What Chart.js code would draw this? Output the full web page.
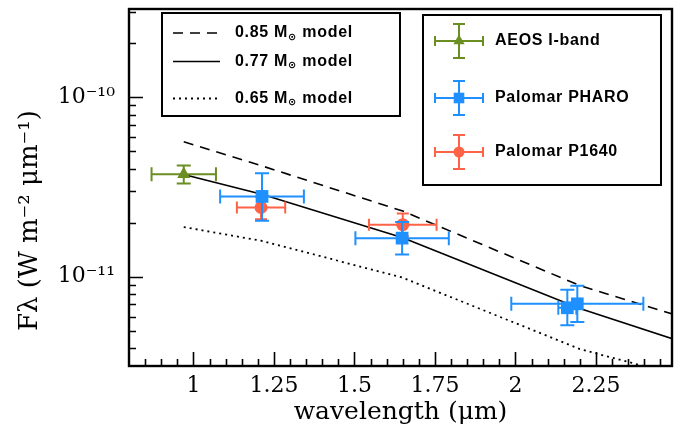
<!DOCTYPE html>
<html><head><meta charset="utf-8">
<script src="https://cdn.jsdelivr.net/npm/chart.js@4"></script>
<style>html,body{margin:0;padding:0;background:#fff;} canvas{display:block;}</style>
</head><body>
<canvas id="c" width="683" height="436"></canvas>
<script>
// ---- model curves (wavelength in micron, flux in W m^-2 um^-1) ----
const modelWavelength = [0.97, 1.215, 1.65, 2.2, 2.5];
const model085 = [5.64e-11, 4.13e-11, 2.32e-11, 8.92e-12, 6.09e-12];
const model077 = [3.71e-11, 2.87e-11, 1.65e-11, 6.65e-12, 4.43e-12];
const model065 = [1.89e-11, 1.58e-11, 9.87e-12, 3.95e-12, 2.84e-12];

// ---- AEOS I-band ----
const aeosWavelength = [0.97];
const aeosWavelengthErr = [0.10];
const aeosFlux = [3.72e-11];
const aeosFluxLow = [3.30e-11];
const aeosFluxHigh = [4.16e-11];

// ---- Palomar PHARO ----
const pharoWavelength = [1.213, 1.648, 2.161, 2.192];
const pharoWavelengthErr = [0.13, 0.145, 0.028, 0.205];
const pharoFlux = [2.80e-11, 1.64e-11, 6.71e-12, 7.06e-12];
const pharoFluxLow = [2.05e-11, 1.33e-11, 5.36e-12, 5.60e-12];
const pharoFluxHigh = [3.77e-11, 2.02e-11, 8.47e-12, 8.90e-12];

// ---- Palomar P1640 ----
const p1640Wavelength = [1.21, 1.65];
const p1640WavelengthErr = [0.075, 0.105];
const p1640Flux = [2.43e-11, 1.95e-11];
const p1640FluxLow = [2.09e-11, 1.68e-11];
const p1640FluxHigh = [2.79e-11, 2.25e-11];

// ---- ticks ----
const xTickValues = [1, 1.25, 1.5, 1.75, 2, 2.25];
const xTickLabels = ['1', '1.25', '1.5', '1.75', '2', '2.25'];
const yTickValues = [1e-11, 1e-10];
const yTickLabels = ['10\u207B\u00B9\u00B9', '10\u207B\u00B9\u2070'];

const GREEN = '#6B8E23', BLUE = '#1E90FF', RED = '#FF6347';

function pts(xs, ys) { return xs.map((x, i) => ({ x: x, y: ys[i] })); }

const errorBars = {
  id: 'errorBars',
  beforeDatasetDraw(chart, args) {
    const ds = chart.data.datasets[args.index];
    if (!ds.errX) return;
    const ctx = chart.ctx, a = chart.chartArea, xs = chart.scales.x, ys = chart.scales.y;
    ctx.save();
    ctx.beginPath(); ctx.rect(a.left, a.top, a.right - a.left, a.bottom - a.top); ctx.clip();
    ctx.strokeStyle = ds.borderColor; ctx.lineWidth = 2;
    const c = ds.capSize;
    ds.data.forEach((p, i) => {
      const px = xs.getPixelForValue(p.x), py = ys.getPixelForValue(p.y);
      const x0 = xs.getPixelForValue(p.x - ds.errX[i]), x1 = xs.getPixelForValue(p.x + ds.errX[i]);
      const y0 = ys.getPixelForValue(ds.errLow[i]), y1 = ys.getPixelForValue(ds.errHigh[i]);
      ctx.beginPath();
      ctx.moveTo(x0, py); ctx.lineTo(x1, py);
      ctx.moveTo(x0, py - c); ctx.lineTo(x0, py + c);
      ctx.moveTo(x1, py - c); ctx.lineTo(x1, py + c);
      ctx.moveTo(px, y0); ctx.lineTo(px, y1);
      ctx.moveTo(px - c, y0); ctx.lineTo(px + c, y0);
      ctx.moveTo(px - c, y1); ctx.lineTo(px + c, y1);
      ctx.stroke();
    });
    ctx.restore();
  }
};

const frameTicks = {
  id: 'frameTicks',
  afterDatasetsDraw(chart) {
    const ctx = chart.ctx, a = chart.chartArea, xs = chart.scales.x, ys = chart.scales.y;
    ctx.save();
    ctx.strokeStyle = '#000';
    ctx.lineWidth = 1.6;
    ctx.beginPath();
    for (let k = 17; k <= 49; k++) {
      const v = k / 20;
      const px = Math.round(xs.getPixelForValue(v)) + 0.5;
      if (px <= a.left + 1 || px >= a.right - 1) continue;
      const major = xTickValues.some(t => Math.abs(t - v) < 1e-9);
      const len = major ? 14 : 7;
      ctx.moveTo(px, a.bottom); ctx.lineTo(px, a.bottom - len);
    }
    for (let d = -12; d <= -10; d++) {
      for (let m = 1; m <= 9; m++) {
        const v = m * Math.pow(10, d);
        if (v < ys.min || v > ys.max) continue;
        const py = Math.round(ys.getPixelForValue(v)) + 0.5;
        const len = m === 1 ? 14 : 7;
        ctx.moveTo(a.left, py); ctx.lineTo(a.left + len, py);
      }
    }
    ctx.stroke();
    ctx.lineWidth = 2.4;
    ctx.strokeRect(a.left, a.top, a.right - a.left, a.bottom - a.top);
    ctx.restore();
  }
};

function drawLabel(ctx, text, x, y) {
  ctx.font = 'bold 16px "Liberation Sans", Arial, sans-serif';
  ctx.textBaseline = 'middle';
  ctx.textAlign = 'left';
  ctx.fillStyle = '#000';
  const parts = text.split('\u2299');
  ctx.fillText(parts[0], x, y);
  let cx = x + ctx.measureText(parts[0]).width;
  if (parts.length > 1) {
    ctx.font = 'bold 10px "DejaVu Sans", sans-serif';
    ctx.fillText('\u2299', cx, y + 4);
    cx += ctx.measureText('\u2299').width;
    ctx.font = 'bold 16px "Liberation Sans", Arial, sans-serif';
    ctx.fillText(parts[1], cx, y);
  }
}

const boxLegends = {
  id: 'boxLegends',
  afterDraw(chart) {
    const ctx = chart.ctx;
    const dsets = chart.data.datasets;
    const byLabel = l => dsets.find(d => d.label === l);
    ctx.save();
    try { ctx.letterSpacing = '0.7px'; } catch (e) {}
    ctx.fillStyle = '#fff';
    ctx.fillRect(162, 13, 238, 103);
    ctx.strokeStyle = '#000'; ctx.lineWidth = 2;
    ctx.strokeRect(162, 13, 238, 103);
    const mRows = [33, 61.5, 98.5];
    ['0.85 M\u2299 model', '0.77 M\u2299 model', '0.65 M\u2299 model'].forEach((lab, i) => {
      const d = byLabel(lab);
      ctx.save();
      ctx.strokeStyle = d.borderColor; ctx.lineWidth = d.borderWidth;
      ctx.setLineDash(d.borderDash || []);
      ctx.beginPath(); ctx.moveTo(173, mRows[i]); ctx.lineTo(220, mRows[i]); ctx.stroke();
      ctx.restore();
      drawLabel(ctx, lab, 235, mRows[i]);
    });
    ctx.fillStyle = '#fff';
    ctx.fillRect(423, 15, 238, 170);
    ctx.strokeStyle = '#000'; ctx.lineWidth = 2;
    ctx.strokeRect(423, 15, 238, 170);
    const dRows = [41, 98, 152];
    ['AEOS I-band', 'Palomar PHARO', 'Palomar P1640'].forEach((lab, i) => {
      const d = byLabel(lab);
      const cx = 459, cy = dRows[i];
      ctx.save();
      ctx.strokeStyle = d.borderColor; ctx.lineWidth = 2;
      ctx.beginPath();
      ctx.moveTo(435, cy); ctx.lineTo(483, cy);
      ctx.moveTo(435, cy - 5); ctx.lineTo(435, cy + 5);
      ctx.moveTo(483, cy - 5); ctx.lineTo(483, cy + 5);
      ctx.moveTo(cx, cy - 17); ctx.lineTo(cx, cy + 17);
      ctx.moveTo(cx - 6, cy - 17); ctx.lineTo(cx + 6, cy - 17);
      ctx.moveTo(cx - 6, cy + 17); ctx.lineTo(cx + 6, cy + 17);
      ctx.stroke();
      ctx.fillStyle = d.backgroundColor;
      Chart.helpers.drawPoint(ctx, { pointStyle: d.pointStyle, rotation: 0, radius: d.legendRadius, borderWidth: 0 }, cx, cy);
      ctx.restore();
      drawLabel(ctx, lab, 495, cy);
    });
    ctx.restore();
  }
};

new Chart(document.getElementById('c'), {
  type: 'scatter',
  data: {
    datasets: [
      { label: 'Palomar PHARO', data: pts(pharoWavelength, pharoFlux),
        errX: pharoWavelengthErr, errLow: pharoFluxLow, errHigh: pharoFluxHigh, capSize: 7,
        pointStyle: 'rect', pointRadius: 9, legendRadius: 7.5,
        backgroundColor: BLUE, borderColor: BLUE, borderWidth: 0 },
      { label: 'Palomar P1640', data: pts(p1640Wavelength, p1640Flux),
        errX: p1640WavelengthErr, errLow: p1640FluxLow, errHigh: p1640FluxHigh, capSize: 6,
        pointStyle: 'circle', pointRadius: 6.5, legendRadius: 5.5,
        backgroundColor: RED, borderColor: RED, borderWidth: 0 },
      { label: 'AEOS I-band', data: pts(aeosWavelength, aeosFlux),
        errX: aeosWavelengthErr, errLow: aeosFluxLow, errHigh: aeosFluxHigh, capSize: 7,
        pointStyle: 'triangle', pointRadius: 7.5, legendRadius: 6.5,
        backgroundColor: GREEN, borderColor: GREEN, borderWidth: 0 },
      { label: '0.85 M\u2299 model', data: pts(modelWavelength, model085), showLine: true,
        borderColor: '#000', borderWidth: 1.6, borderDash: [10, 7], pointRadius: 0, tension: 0, fill: false },
      { label: '0.77 M\u2299 model', data: pts(modelWavelength, model077), showLine: true,
        borderColor: '#000', borderWidth: 1.6, pointRadius: 0, tension: 0, fill: false },
      { label: '0.65 M\u2299 model', data: pts(modelWavelength, model065), showLine: true,
        borderColor: '#000', borderWidth: 1.8, borderDash: [2, 4], pointRadius: 0, tension: 0, fill: false }
    ]
  },
  options: {
    responsive: false,
    animation: false,
    layout: { padding: { top: 6, right: 11, left: 0, bottom: 0 } },
    plugins: { legend: { display: false }, tooltip: { enabled: false } },
    scales: {
      x: {
        type: 'linear', position: 'bottom', min: 0.8, max: 2.486,
        grid: { display: false, drawTicks: false }, border: { display: false },
        afterBuildTicks: s => { s.ticks = xTickValues.map(v => ({ value: v })); },
        afterFit: s => { s.height = 70; s.paddingLeft = 0; s.paddingRight = 0; },
        ticks: {
          autoSkip: false, maxRotation: 0, padding: 7, color: '#000',
          font: { family: '"DejaVu Serif", serif', size: 22 },
          callback: (v) => { const i = xTickValues.findIndex(t => Math.abs(t - v) < 1e-9); return i >= 0 ? xTickLabels[i] : ''; }
        },
        title: { display: true, text: 'wavelength (\u03BCm)', color: '#000',
          font: { family: '"DejaVu Serif", serif', size: 25 }, padding: { top: 0, bottom: 9 } }
      },
      y: {
        type: 'logarithmic', position: 'left', min: 3.18e-12, max: 3.1e-10,
        grid: { display: false, drawTicks: false }, border: { display: false },
        afterBuildTicks: s => { s.ticks = yTickValues.map(v => ({ value: v })); },
        afterFit: s => { s.width = 129; s.paddingTop = 0; s.paddingBottom = 0; },
        ticks: {
          autoSkip: false, padding: 14, color: '#000',
          font: { family: '"DejaVu Serif", serif', size: 22 },
          callback: (v) => { const i = yTickValues.findIndex(t => Math.abs(t - v) / t < 1e-6); return i >= 0 ? yTickLabels[i] : ''; }
        },
        title: { display: true, text: 'F\u03BB (W m\u207B\u00B2 \u03BCm\u207B\u00B9)        ', color: '#000',
          font: { family: '"DejaVu Serif", serif', size: 26 }, padding: { top: 15, bottom: 0 } }
      }
    }
  },
  plugins: [errorBars, frameTicks, boxLegends]
});
</script>
</body></html>
